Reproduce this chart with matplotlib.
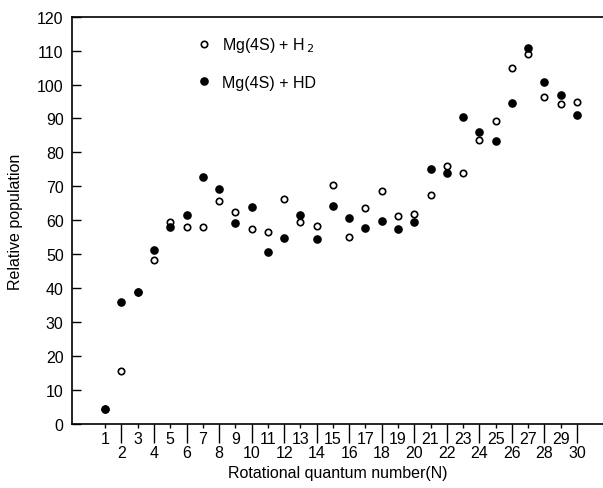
import numpy as np
import matplotlib.pyplot as plt

plt.rcParams['font.family'] = ['Liberation Sans', 'DejaVu Sans']

# rotational quantum number N
N = np.arange(1, 31)

# Mg(4S) + H2 (open circles)
pop_h2 = [4.6, 15.8, 39.0, 48.5, 59.7, 58.0, 58.1, 65.6, 62.5, 57.5,
          56.5, 66.3, 59.5, 58.5, 70.5, 55.0, 63.8, 68.8, 61.3, 61.8,
          67.4, 76.1, 74.1, 83.8, 89.2, 104.9, 109.1, 96.3, 94.3, 94.8]

# Mg(4S) + HD (filled circles)
pop_hd = [4.6, 36.1, 39.1, 51.4, 58.1, 61.6, 72.9, 69.2, 59.4, 64.0,
          50.8, 54.8, 61.6, 54.5, 64.2, 60.8, 57.9, 59.8, 57.5, 59.7,
          75.2, 74.0, 90.4, 86.0, 83.3, 94.6, 110.8, 100.8, 96.8, 91.1]

fig = plt.figure(figsize=(6.03, 4.89), dpi=100)
ax = fig.add_axes([0.1194, 0.1299, 0.8806, 0.8343])

ax.plot(N, pop_h2, 'o', ls='none', ms=4.6, mfc='white', mec='black',
        mew=1.2, label=r'Mg(4S) + H$\,_2$')
ax.plot(N, pop_hd, 'o', ls='none', ms=5.2, mfc='black', mec='black',
        label='Mg(4S) + HD')

ax.set_xlim(-1.04, 31.6)
ax.set_ylim(0, 120)

ax.spines['right'].set_visible(False)
for s in ['left', 'bottom', 'top']:
    ax.spines[s].set_linewidth(1.2)

ax.set_yticks(np.arange(0, 121, 10))
ax.tick_params(axis='y', direction='in', length=6.5, width=1.0,
               labelsize=11.5, pad=6, right=False)

even = N[N % 2 == 0]
odd = N[N % 2 == 1]
ax.set_xticks(even, labels=[str(v) for v in even])
ax.set_xticks(odd, labels=[str(v) for v in odd], minor=True)
ax.tick_params(axis='x', which='major', direction='out', length=14,
               width=1.0, labelsize=11.5, pad=0.5, top=False)
ax.tick_params(axis='x', which='minor', direction='out', length=3,
               width=1.0, labelsize=11.5, pad=1.5, top=False)

ax.set_xlabel('Rotational quantum number(N)', fontsize=11.5, labelpad=4)
ax.set_ylabel('Relative population', fontsize=11.5, labelpad=10)

ax.legend(loc='upper left', bbox_to_anchor=(0.225, 0.97), frameon=False,
          fontsize=11.5, handlelength=0.8, handletextpad=0.7,
          labelspacing=1.3, borderaxespad=0)

plt.savefig('out.png', dpi=100)
